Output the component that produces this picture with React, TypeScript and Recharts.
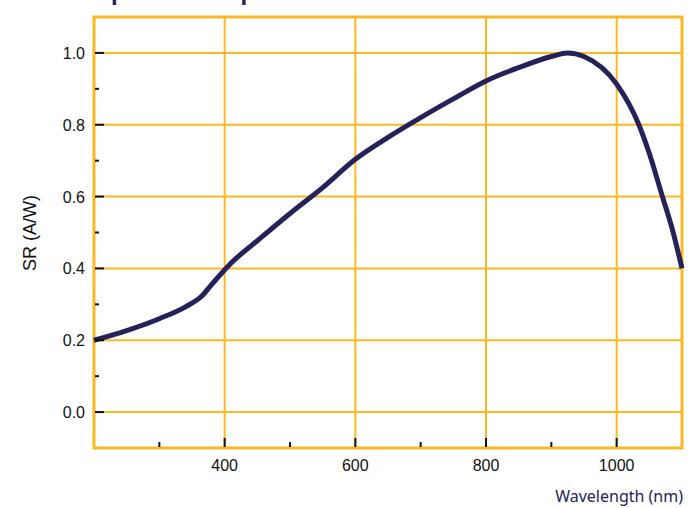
import { ComposedChart, Line, XAxis, YAxis, ReferenceLine, ReferenceArea } from 'recharts';

const wavelengths = [200, 250, 300, 340, 365, 380, 395, 410, 450, 500, 550, 600, 650, 700, 750, 800, 850, 900, 925, 950, 1000, 1034, 1050, 1070, 1085, 1100];
const responses = [0.2, 0.227, 0.26, 0.293, 0.323, 0.355, 0.386, 0.415, 0.477, 0.553, 0.625, 0.704, 0.765, 0.82, 0.872, 0.922, 0.959, 0.99, 1.0, 0.99, 0.913, 0.8, 0.72, 0.6, 0.51, 0.4];

const xMajorTicks = [400, 600, 800, 1000];
const xMinorTicks = [300, 500, 700, 900];
const yMajorTicks = [0, 0.2, 0.4, 0.6, 0.8, 1.0];
const yMinorTicks = [0.1, 0.3, 0.5, 0.7, 0.9];

const data = wavelengths.map((w, i) => ({ w, sr: responses[i] }));

const ORANGE = '#FBB823';
const NAVY = '#25225A';
const FONT = '"Liberation Sans", Arial, sans-serif';

const XTick = ({ x, y, payload }: any) => {
  const major = xMajorTicks.includes(payload.value);
  return (
    <g>
      <line x1={x} x2={x} y1={y - 1} y2={y - (major ? 10 : 6)} stroke="#111" strokeWidth={2} />
      {major && (
        <text x={x} y={y + 23} textAnchor="middle" fontSize={16} fontFamily={FONT} fill="#111">
          {payload.value}
        </text>
      )}
    </g>
  );
};

const YTick = ({ x, y, payload }: any) => {
  const major = yMajorTicks.some((v) => Math.abs(v - payload.value) < 1e-6);
  return (
    <g>
      <line x1={x + 1} x2={x + (major ? 10 : 5)} y1={y} y2={y} stroke="#111" strokeWidth={2} />
      {major && (
        <text x={x - 9} y={y + 6} textAnchor="end" fontSize={16} fontFamily={FONT} fill="#111">
          {payload.value.toFixed(1)}
        </text>
      )}
    </g>
  );
};

const App = () => {
  const xTicks = [...xMinorTicks, ...xMajorTicks].sort((a, b) => a - b);
  const yTicks = [...yMinorTicks, ...yMajorTicks].sort((a, b) => a - b);

  return (
    <div style={{ position: 'absolute', left: 0, top: 0, width: 690, height: 508, overflow: 'hidden', background: '#fff' }}>
      {/* title is cropped at the top edge, as in the source image */}
      <div
        style={{
          position: 'absolute',
          left: 95,
          top: -20,
          fontFamily: FONT,
          fontWeight: 'bold',
          fontSize: 24,
          lineHeight: '24px',
          color: NAVY,
          whiteSpace: 'nowrap',
        }}
      >
        Spectral Response
      </div>
      <ComposedChart width={690} height={508} data={data} margin={{ top: 17, right: 8, left: 0, bottom: 0 }}>
        <XAxis
          type="number"
          dataKey="w"
          domain={[200, 1100]}
          ticks={xTicks}
          interval={0}
          tick={<XTick />}
          tickSize={0}
          tickMargin={0}
          tickLine={false}
          axisLine={false}
          height={60}
          label={{
            content: () => (
              <text x={683} y={502} textAnchor="end" fontSize={16} fontFamily='"Noto Sans", sans-serif' fill={NAVY}>
                Wavelength (nm)
              </text>
            ),
          }}
        />
        <YAxis
          type="number"
          domain={[-0.1, 1.1]}
          ticks={yTicks}
          interval={0}
          tick={<YTick />}
          tickSize={0}
          tickMargin={0}
          tickLine={false}
          axisLine={false}
          width={94}
          label={{
            content: () => (
              <text
                x={36}
                y={233}
                transform="rotate(-90 36 233)"
                textAnchor="middle"
                fontSize={18}
                fontFamily={FONT}
                fill="#111"
              >
                SR (A/W)
              </text>
            ),
          }}
        />
        {yMajorTicks.map((v) => (
          <ReferenceLine key={`h-${v}`} y={v} stroke={ORANGE} strokeWidth={2} />
        ))}
        {xMajorTicks.map((v) => (
          <ReferenceLine key={`v-${v}`} x={v} stroke={ORANGE} strokeWidth={2} />
        ))}
        <ReferenceArea x1={200} x2={1100} y1={-0.1} y2={1.1} fill="none" fillOpacity={0} stroke={ORANGE} strokeWidth={3} />
        <Line
          type="monotone"
          dataKey="sr"
          stroke={NAVY}
          strokeWidth={5}
          dot={false}
          isAnimationActive={false}
        />
      </ComposedChart>
    </div>
  );
};

export default App;
